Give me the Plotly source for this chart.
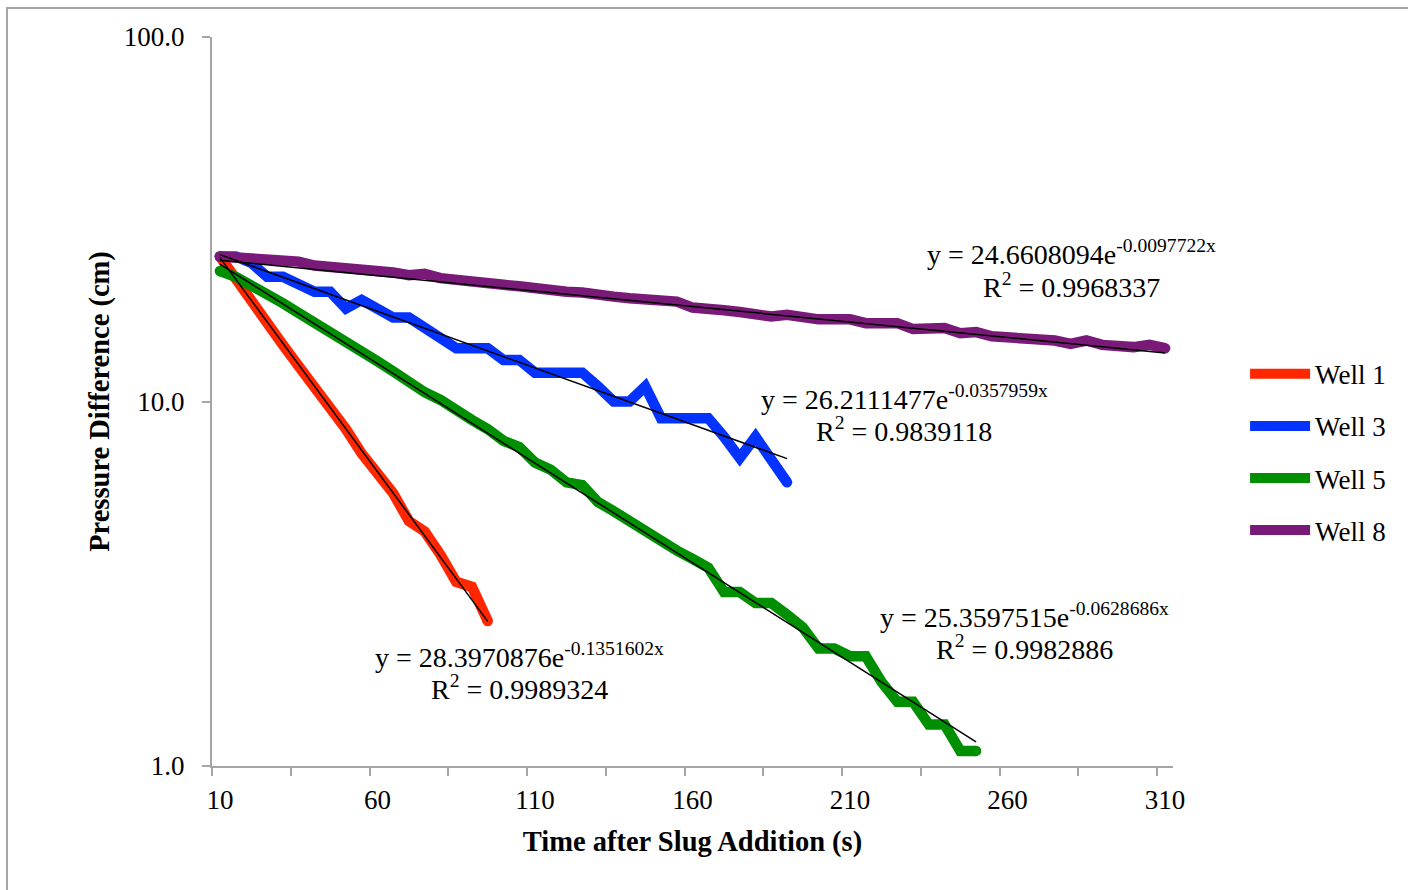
import numpy as np
import plotly.graph_objects as go

# Readings are taken every 5 s starting at t = 10 s
T_START = 10
T_STEP = 5

well1 = [25.0, 21.6, 18.9, 16.5, 14.3, 12.5, 11.0, 9.7, 8.4, 7.2, 6.4, 5.6,
         4.7, 4.4, 3.8, 3.2, 3.1, 2.5]
well3 = [25, 25, 24, 22, 22, 21, 20, 20, 18, 19, 18, 17, 17, 16, 15, 14, 14, 14,
         13, 13, 12, 12, 12, 12, 11, 10, 10, 11, 9, 9, 9, 9, 8, 7, 8, 7, 6]
well5 = [22.8, 22.0, 20.8, 19.8, 18.6, 17.5, 16.4, 15.5, 14.6, 13.6, 12.9, 12.1,
         11.3, 10.6, 10.1, 9.4, 8.9, 8.4, 7.8, 7.5, 6.8, 6.5, 6.0, 5.9, 5.3, 5.0,
         4.7, 4.4, 4.1, 3.9, 3.7, 3.5, 3.0, 3.0, 2.8, 2.8, 2.6, 2.4, 2.1, 2.1,
         2.0, 2.0, 1.7, 1.5, 1.5, 1.3, 1.3, 1.1, 1.1]
well8 = [25.0, 24.8, 24.6, 24.5, 24.4, 24.2, 23.6, 23.4, 23.3, 23.2, 23.0, 22.6,
         22.2, 22.4, 21.8, 21.5, 21.3, 21.1, 20.9, 20.7, 20.4, 20.2, 20.0, 19.9,
         19.5, 19.4, 19.2, 19.0, 18.9, 18.8, 18.1, 17.8, 17.8, 17.6, 17.3, 17.1,
         17.3, 17.0, 16.8, 16.8, 16.8, 16.4, 16.4, 16.4, 15.8, 15.8, 15.9, 15.4,
         15.5, 15.1, 15.0, 15.0, 14.9, 14.7, 14.4, 14.7, 14.3, 14.2, 14.1, 14.3,
         14.0]

names = ["Well 1", "Well 3", "Well 5", "Well 8"]
series = [well1, well3, well5, well8]
colors = ["#FF2600", "#0433FF", "#008F00", "#7A1A78"]

# Exponential trendlines y = a*exp(b*x), x = reading number (1, 2, 3, ...)
fit_a = [28.3970876, 26.2111477, 25.3597515, 24.6608094]
fit_b = [-0.1351602, -0.0357959, -0.0628686, -0.0097722]
fit_r2 = ["0.9989324", "0.9839118", "0.9982886", "0.9968337"]

# label centres (paper fractions) for each trendline equation: (x, y_eq, y_r2)
label_pos = [(0.3202, 0.1520, 0.1070),
             (0.7201, 0.5050, 0.4610),
             (0.8450, 0.2070, 0.1625),
             (0.8949, 0.7040, 0.6590)]

FONT = "Liberation Serif"
AXIS_GREY = "#A6A6A6"
LINE_W = 10.5

fig = go.Figure()

for name, vals, col in zip(names, series, colors):
    t = T_START + T_STEP * np.arange(len(vals))
    fig.add_trace(go.Scatter(
        x=t, y=vals, mode="lines", name=name,
        line=dict(color=col, width=LINE_W),
        legendgroup=name,
    ))
    # rounded line ends
    fig.add_trace(go.Scatter(
        x=[t[0], t[-1]], y=[vals[0], vals[-1]], mode="markers",
        marker=dict(color=col, size=LINE_W, line=dict(width=0)),
        showlegend=False, hoverinfo="skip", legendgroup=name,
    ))

for vals, a, b in zip(series, fit_a, fit_b):
    idx = np.arange(1, len(vals) + 1)
    t = T_START + T_STEP * (idx - 1)
    fig.add_trace(go.Scatter(
        x=t, y=a * np.exp(b * idx), mode="lines",
        line=dict(color="black", width=1.5),
        showlegend=False, hoverinfo="skip",
    ))

annotations = []
for a, b, r2, (lx, ly1, ly2) in zip(fit_a, fit_b, fit_r2, label_pos):
    annotations.append(dict(
        xref="paper", yref="paper", x=lx, y=ly1,
        xanchor="center", yanchor="middle", showarrow=False,
        text=f"y = {a:.7f}e<sup>{b:.7f}x</sup>",
        font=dict(family=FONT, size=28, color="black"),
    ))
    annotations.append(dict(
        xref="paper", yref="paper", x=lx, y=ly2,
        xanchor="center", yanchor="middle", showarrow=False,
        text=f"R<sup>2</sup> = {r2}",
        font=dict(family=FONT, size=28, color="black"),
    ))

x_tick_vals = [10, 60, 110, 160, 210, 260, 310]
x_minor_vals = [7.5 + 25 * i for i in range(13)]
y_tick_vals = [1, 10, 100]
y_tick_text = ["1.0", "10.0", "100.0"]

fig.update_layout(
    width=1408, height=890,
    margin=dict(l=212, r=235, t=37, b=124),
    paper_bgcolor="white", plot_bgcolor="white",
    font=dict(family=FONT, size=27, color="black"),
    showlegend=True,
    legend=dict(
        x=1.075, y=0.571, xanchor="left", yanchor="top",
        font=dict(family=FONT, size=27, color="black"),
        itemwidth=60, tracegroupgap=14,
        bgcolor="rgba(0,0,0,0)",
    ),
    annotations=annotations,
    shapes=[dict(
        type="rect", xref="paper", yref="paper",
        x0=(7 - 212) / 961, x1=(1430 - 212) / 961,
        y0=(766 - 910) / 729, y1=(766 - 8) / 729,
        line=dict(color=AXIS_GREY, width=2), fillcolor="rgba(0,0,0,0)",
        layer="below",
    )],
    xaxis=dict(
        range=[7.5, 312.5], tickvals=x_tick_vals,
        ticktext=[str(v) for v in x_tick_vals],
        ticks="", showgrid=False, zeroline=False,
        showline=True, linecolor=AXIS_GREY, linewidth=2,
        minor=dict(tickvals=x_minor_vals, ticks="outside", ticklen=8,
                   tickwidth=2, tickcolor=AXIS_GREY, showgrid=False),
        tickfont=dict(family=FONT, size=27),
        ticklabelstandoff=9,
        title=dict(text="<b>Time after Slug Addition (s)</b>",
                   font=dict(family=FONT, size=28.5), standoff=17),
    ),
    yaxis=dict(
        type="log", range=[0, 2], tickvals=y_tick_vals, ticktext=y_tick_text,
        ticks="outside", ticklen=8, tickwidth=2, tickcolor=AXIS_GREY,
        showgrid=False, zeroline=False,
        showline=True, linecolor=AXIS_GREY, linewidth=2,
        tickfont=dict(family=FONT, size=27),
        ticklabelstandoff=12,
        title=dict(text="<b>Pressure Difference (cm)</b>",
                   font=dict(family=FONT, size=28.5), standoff=6),
    ),
)

fig.write_html("out.html")
